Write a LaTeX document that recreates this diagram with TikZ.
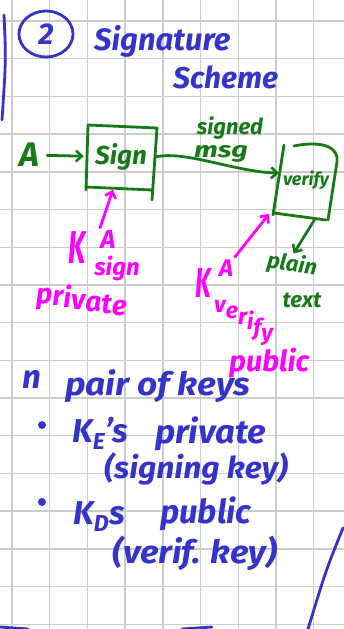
\documentclass[tikz,border=0pt]{standalone}
\usepackage{fontspec}
\setmainfont{Fira Sans}
\usetikzlibrary{arrows.meta}
\definecolor{inkblue}{RGB}{52,52,205}
\definecolor{inkgreen}{RGB}{22,122,22}
\definecolor{inkpink}{RGB}{255,0,255}
\definecolor{gridgray}{RGB}{204,204,204}
\begin{document}
\begin{tikzpicture}[x=1pt,y=-1pt,line cap=round,line join=round,
  pen/.style={line width=2.8pt},
  gridline/.style={gridgray,line width=1.4pt},
  hand/.style={inner sep=0pt,font=\bfseries\itshape\fontsize{#1}{#1}\selectfont},
  hand/.default=20,
  tip/.style={-{Straight Barb[length=6pt,width=11pt,line width=2.6pt]}},
  stepbox/.style={inner sep=0pt}]

% paper and grid
\fill[white] (0,0) rectangle (344,629);
\useasboundingbox (0,0) rectangle (344,629);
\foreach \i in {0,...,8} \draw[gridline] ({12+37.7*\i},0) -- ({12+37.7*\i},629);
\foreach \j in {0,...,16} \draw[gridline] (0,{21+37.7*\j}) -- (344,{21+37.7*\j});

% margin strokes
\draw[pen,inkblue] (4,15) .. controls (6,60) .. (2,120);
\draw[pen,inkblue] (343,528) .. controls (326,570) .. (308,629);
\draw[pen,inkblue] (0,627) -- (28,629);
\draw[pen,inkblue] (182,629) -- (212,627);

% heading
\node[hand=30,text=inkblue] (num) at (46,34) {2};
\draw[pen,inkblue] (num.center) ellipse (27pt and 23pt);
\node[hand=31,text=inkblue,anchor=base west] (title1) at (94,50) {Signature};
\node[hand=30,text=inkblue,anchor=base west] (title2) at (173,88) {Scheme};

% signing and verification boxes, outlined by hand
\node[stepbox,minimum width=68pt,minimum height=65pt,hand=26,text=inkgreen] (sign) at (121,157) {Sign};
\draw[pen,inkgreen] ([shift={(-35,33)}]sign.center) -- ([shift={(-33,-32)}]sign.center)
  -- ([shift={(36,-29)}]sign.center) -- ([shift={(31,43)}]sign.center);
\draw[pen,inkgreen] ([shift={(-35,30)}]sign.center) -- ([shift={(31,33)}]sign.center);

\node[stepbox,minimum width=58pt,minimum height=71pt,hand=18,text=inkgreen] (verify) at (306,180) {verify};
\draw[pen,inkgreen] ([shift={(-22,-35)}]verify.center) -- ([shift={(-33,35)}]verify.center);
\draw[pen,inkgreen] ([shift={(-12,-34)}]verify.center) .. controls ([shift={(18,-40)}]verify.center)
  and ([shift={(33,-32)}]verify.center) .. ([shift={(31,-18)}]verify.center)
  -- ([shift={(22,40)}]verify.center);
\draw[pen,inkgreen] ([shift={(-32,33)}]verify.center) -- ([shift={(20,40)}]verify.center);
\coordinate (vin) at ([shift={(-27,-7)}]verify.center);
\coordinate (vout) at ([shift={(9,39)}]verify.center);
\coordinate (vkey) at ([shift={(-37,34)}]verify.center);

\node[hand=34,text=inkgreen] (A) at (29,155) {A};
\node[hand=22,text=inkgreen] (signed) at (230,128) {signed};
\node[hand=22,text=inkgreen,xscale=1.3] (msg) at (221,154) {msg};
\node[hand=22,text=inkgreen,rotate=-8] (plain) at (292,265) {plain};
\node[hand=22,text=inkgreen] (text) at (302,300) {text};

\draw[pen,inkgreen,tip,shorten <=8pt,shorten >=3pt] (A) -- (sign);
\draw[pen,inkgreen,tip] (sign.east) .. controls (185,150) and (235,172) .. (vin);
\draw[pen,inkgreen,tip] (vout) -- (plain.north);

% keys
\node[hand=46,text=inkpink,xscale=0.6] (K1) at (77,248) {K};
\node[hand=26,text=inkpink] (A1) at (108,239) {A};
\node[hand=24,text=inkpink] (sub1) at (117,268) {sign};
% words that run downhill, one letter at a time
\node[hand=28,text=inkpink,anchor=base west] (priv) at (36,303)
  {p\raisebox{-2pt}{r}\raisebox{-4pt}{i}\raisebox{-6pt}{v}\raisebox{-8pt}{a}\raisebox{-10pt}{t}\raisebox{-12pt}{e}};
\coordinate (k1tail) at (100,228);
\draw[pen,inkpink,tip] (k1tail) -- ([xshift=-8pt]sign.south);

\node[hand=42,text=inkpink,xscale=0.6] (K2) at (203,283) {K};
\node[hand=24,text=inkpink] (A2) at (226,268) {A};
\node[hand=23,text=inkpink,anchor=base west] (sub2) at (214,312)
  {v\raisebox{-6pt}{e}\raisebox{-12pt}{r}\raisebox{-17pt}{i}\raisebox{-23pt}{f}\raisebox{-28pt}{y}};
\node[hand=29,text=inkpink,anchor=base west] (pub) at (229,371) {public};
\coordinate (k2tail) at (235,257);
\draw[pen,inkpink,tip] (k2tail) -- (vkey);

% notes on the key pair
\node[hand=33,text=inkblue,anchor=base west] (n) at (22,388) {n};
\node[hand=32,text=inkblue,anchor=base west,xscale=1.1] (pair) at (65,395) {pair of keys};
\fill[inkblue] (42,425) circle (4pt);
\node[hand=33,text=inkblue,anchor=base west] (ke) at (72,442) {K\textsubscript{E}'s};
\node[hand=33,text=inkblue,anchor=base west,xscale=1.05] (kepriv) at (155,443) {private};
\node[hand=30,text=inkblue,anchor=base west,xscale=1.06] (signkey) at (104,478) {(signing key)};
\fill[inkblue] (42,502) circle (4pt);
\node[hand=33,text=inkblue,anchor=base west] (kd) at (73,524) {K\textsubscript{D}s};
\node[hand=33,text=inkblue,anchor=base west] (kdpub) at (160,523) {public};
\node[hand=32,text=inkblue,anchor=base west,xscale=1.08] (verkey) at (112,563) {(verif. key)};
\end{tikzpicture}
\end{document}
